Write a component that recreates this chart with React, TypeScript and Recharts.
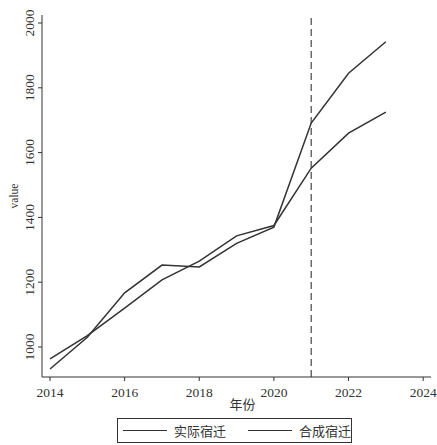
import { LineChart, Line, XAxis, YAxis, ReferenceLine, Legend, Label } from "recharts";

const years = [2014, 2015, 2016, 2017, 2018, 2019, 2020, 2021, 2022, 2023];
const actual = [932, 1030, 1167, 1253, 1247, 1320, 1370, 1691, 1845, 1942];
const synthetic = [963, 1035, 1120, 1207, 1265, 1343, 1375, 1552, 1660, 1725];
const xTicks = [2014, 2016, 2018, 2020, 2022, 2024];
const yTicks = [1000, 1200, 1400, 1600, 1800, 2000];
const seriesNames = ["实际宿迁", "合成宿迁"];
const treatYear = 2021;

const data = years.map((year, i) => ({ year, actual: actual[i], synthetic: synthetic[i] }));

const FONT = '"Liberation Serif", "Times New Roman", "Noto Sans CJK SC", serif';
const INK = "#333";

function YTick(props: any) {
  const { x, y, payload } = props;
  return (
    <text
      x={x}
      y={y}
      transform={`rotate(-90 ${x} ${y})`}
      textAnchor="middle"
      fontSize={13.5}
      fontFamily={FONT}
      fill={INK}
    >
      {payload.value}
    </text>
  );
}

function YTitle(props: any) {
  const { viewBox } = props;
  const x = viewBox.x + 8;
  const y = viewBox.y + viewBox.height / 2;
  return (
    <text
      x={x}
      y={y}
      transform={`rotate(-90 ${x} ${y})`}
      textAnchor="middle"
      fontSize={11.5}
      fontFamily={FONT}
      fill={INK}
    >
      value
    </text>
  );
}

function LegendBox() {
  return (
    <div
      style={{
        boxSizing: "border-box",
        width: 235,
        height: 25,
        border: `1px solid ${INK}`,
        display: "flex",
        alignItems: "center",
        fontFamily: FONT,
        fontSize: 13,
        color: INK,
      }}
    >
      {seriesNames.map((name, i) => (
        <div key={name} style={{ display: "flex", alignItems: "center", marginLeft: i === 0 ? 5 : 22 }}>
          <span style={{ display: "inline-block", width: 44, borderTop: `1.5px solid ${INK}` }} />
          <span style={{ marginLeft: 7 }}>{name}</span>
        </div>
      ))}
    </div>
  );
}

export default function App() {
  return (
    <div style={{ position: "absolute", left: 0, top: 0, background: "white" }}>
      <LineChart
        width={437}
        height={445}
        data={data}
        margin={{ top: 15, right: 6, left: 10, bottom: 38 }}
      >
        <XAxis
          type="number"
          dataKey="year"
          domain={[2013.785, 2024.21]}
          allowDataOverflow
          ticks={xTicks}
          interval={0}
          height={30}
          tickSize={4}
          tickMargin={6}
          stroke={INK}
          tick={{ fontSize: 13.5, fontFamily: FONT, fill: INK }}
        >
          <Label value="年份" position="insideBottom" offset={-2} fontSize={13} fontFamily={FONT} fill={INK} dx={6} />
        </XAxis>
        <YAxis
          type="number"
          domain={[907.4, 2024.7]}
          allowDataOverflow
          ticks={yTicks}
          interval={0}
          width={32}
          tickSize={4}
          tickMargin={4}
          stroke={INK}
          tick={<YTick />}
        >
          <Label content={<YTitle />} />
        </YAxis>
        <ReferenceLine x={treatYear} stroke="#555" strokeWidth={1.3} strokeDasharray="7 4" />
        <Line
          type="linear"
          dataKey="actual"
          name={seriesNames[0]}
          stroke={INK}
          strokeWidth={1.5}
          dot={false}
          isAnimationActive={false}
        />
        <Line
          type="linear"
          dataKey="synthetic"
          name={seriesNames[1]}
          stroke={INK}
          strokeWidth={1.5}
          dot={false}
          isAnimationActive={false}
        />
        <Legend
          layout="horizontal"
          verticalAlign="middle"
          content={<LegendBox />}
          wrapperStyle={{ left: 117, top: 418, width: 235, height: 25 }}
        />
      </LineChart>
    </div>
  );
}
